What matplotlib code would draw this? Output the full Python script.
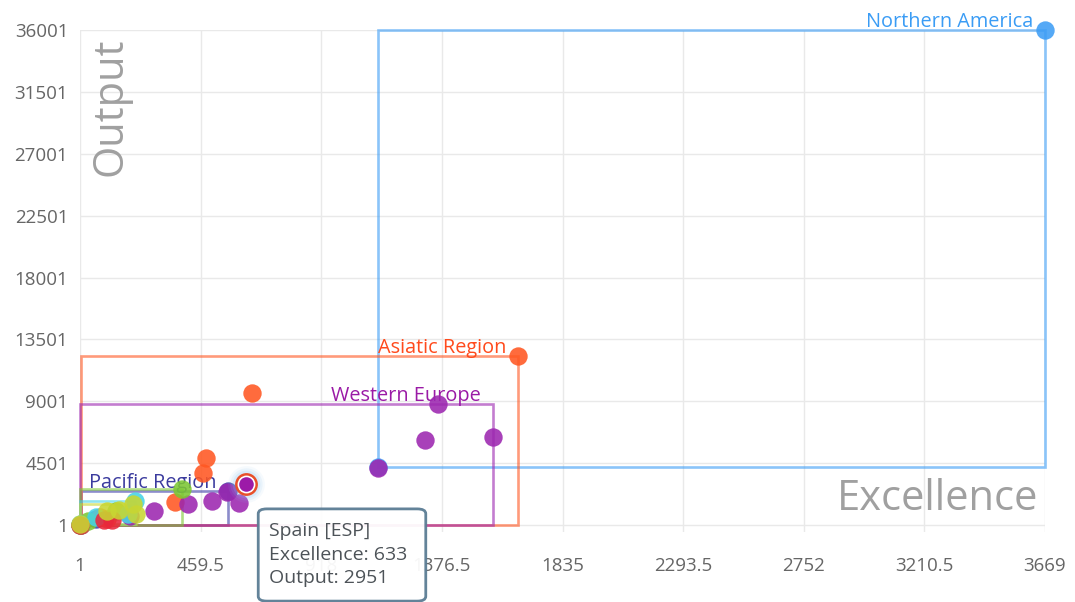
import matplotlib.pyplot as plt
from matplotlib.patches import Rectangle, FancyBboxPatch

plt.rcParams['font.family'] = ['Open Sans', 'DejaVu Sans']

# x / y tick values
x_ticks = [1, 459.5, 918, 1376.5, 1835, 2293.5, 2752, 3210.5, 3669]
x_tick_labels = ["1", "459.5", "918", "1376.5", "1835", "2293.5", "2752", "3210.5", "3669"]
y_ticks = [1, 4501, 9001, 13501, 18001, 22501, 27001, 31501, 36001]

# regioni: excelenta / output
na_exc = [3669, 1134]
na_out = [36001, 4220]

asia_exc = [1666, 655, 480, 469, 362, 77, 104, 3]
asia_out = [12292, 9601, 4874, 3783, 1674, 583, 437, 20]

pac_exc = [564, 4, 60]
pac_out = [2474, 30, 420]

weu_exc = [1571, 1362, 1312, 1134, 605, 503, 412, 282, 191, 560, 2]
weu_out = [6401, 8801, 6183, 4146, 1601, 1746, 1528, 1019, 655, 2420, 5]

green_exc = [389, 138, 31, 2]
green_out = [2619, 1019, 292, 10]

cyan_exc = [210, 62, 183, 2]
cyan_out = [1746, 583, 801, 40]

red_exc = [123, 92, 2]
red_out = [365, 365, 15]

yg_exc = [1, 202, 104, 214, 150]
yg_out = [100, 1528, 1019, 801, 1100]

spain = ("Spain [ESP]", 633, 2951)

regions = [
    # nume, x, y, culoare, eticheta
    ("Northern America", na_exc, na_out, "#3d9df5", "#3a9cf5"),
    ("Pacific Region", pac_exc, pac_out, "#4040a8", "#3b3b9e"),
    ("Asiatic Region", asia_exc, asia_out, "#ff5722", "#ff4a1c"),
    ("Western Europe", weu_exc, weu_out, "#9c27b0", "#9a1aa6"),
    ("green", green_exc, green_out, "#7cc733", None),
    ("cyan", cyan_exc, cyan_out, "#45d3e6", None),
    ("red", red_exc, red_out, "#e8283c", None),
    ("yellowgreen", yg_exc, yg_out, "#c8d632", None),
]

fig = plt.figure(figsize=(10.75, 6.02), dpi=100)
ax = fig.add_axes([80 / 1075, 1 - 532 / 602, 965 / 1075, 502 / 602])

ax.set_xlim(1, 3669)
ax.set_ylim(-508, 36001)
ax.set_xticks(x_ticks)
ax.set_xticklabels(x_tick_labels)
ax.set_yticks(y_ticks)
ax.set_yticklabels([str(v) for v in y_ticks])
ax.tick_params(axis='both', length=0, labelsize=13.5, labelcolor='#666666')
ax.tick_params(axis='x', pad=18)
ax.tick_params(axis='y', pad=8.5)
for s in ax.spines.values():
    s.set_visible(False)
ax.grid(True, color='#e9e9e9', linewidth=1)
ax.set_axisbelow(True)

# titluri axe in interiorul graficului
ax.text(0.032, 0.985, "Output", transform=ax.transAxes, rotation=90,
        fontsize=30, color='#a0a0a0', ha='center', va='top')
ax.text(0.993, 0.065, "Excellence", transform=ax.transAxes,
        fontsize=30, color='#a0a0a0', ha='right', va='center')

# dreptunghiuri pentru fiecare regiune
for name, xs, ys, col, lcol in regions:
    x0, x1 = min(xs), max(xs)
    y0, y1 = min(ys), max(ys)
    r = Rectangle((x0, y0), x1 - x0, y1 - y0, fill=False, edgecolor=col,
                  linewidth=1.9, alpha=0.6, zorder=2, clip_on=False)
    ax.add_patch(r)
    if lcol is not None:
        ax.annotate(name, (x1, y1), xytext=(-8.6, 5.8), textcoords='offset points',
                    ha='right', va='center', fontsize=14.3, color=lcol, zorder=3)

# puncte
for name, xs, ys, col, lcol in regions:
    ax.scatter(xs, ys, s=175, color=col, alpha=0.88, linewidths=0, zorder=4, clip_on=False)

# punctul evidentiat (Spania)
for sz, a in [(700, 0.08), (540, 0.12), (400, 0.18)]:
    ax.scatter([spain[1]], [spain[2]], s=sz, color='#8ec6f2', alpha=a, linewidths=0, zorder=5)
ax.scatter([spain[1]], [spain[2]], s=270, color='#e8502a', linewidths=0, zorder=6)
ax.scatter([spain[1]], [spain[2]], s=165, color='white', linewidths=0, zorder=7)
ax.scatter([spain[1]], [spain[2]], s=110, color='#9c1aa8', linewidths=0, zorder=8)

# tooltip
box = FancyBboxPatch((262 / 1075, 1 - 599 / 602), 160 / 1075, 88 / 602,
                     boxstyle="round,pad=0.0035,rounding_size=0.008",
                     transform=fig.transFigure, facecolor='white', alpha=0.95,
                     edgecolor='#5b7c94', linewidth=2, zorder=10)
fig.patches.append(box)
tip_lines = [spain[0], "Excellence: %d" % spain[1], "Output: %d" % spain[2]]
for i, t in enumerate(tip_lines):
    fig.text(269 / 1075, 1 - (531 + 23.5 * i) / 602, t, fontsize=14,
             color='#4d5358', ha='left', va='center', zorder=11)

fig.savefig("out.png", dpi=100)
